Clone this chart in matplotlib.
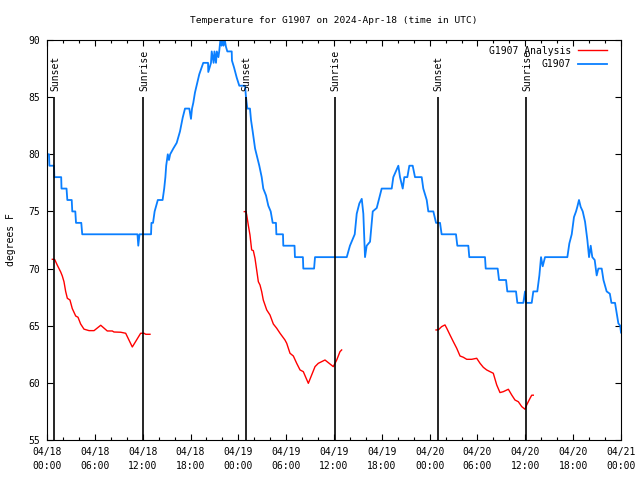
import matplotlib
matplotlib.use("Agg")
import matplotlib.pyplot as plt
from matplotlib.ticker import FixedLocator, MultipleLocator

plt.rcParams['font.family'] = ['DejaVu Sans Mono']

# hours since 2024-04-18 00:00 UTC
obs_hours = [0.0, 0.25, 0.3, 0.88, 0.92, 1.78, 1.82, 2.45, 2.55, 3.1, 3.17, 3.55, 3.64, 4.3, 4.42,
             11.35, 11.45, 11.6, 13.05, 13.1, 13.3, 13.5, 13.9, 14.5, 14.7, 14.85, 14.95, 15.15,
             15.3, 15.45, 15.84, 16.27, 16.68, 17.02, 17.31, 17.85, 18.06, 18.19, 18.35, 18.56,
             19.1, 19.6, 20.2, 20.23, 20.57, 20.66, 20.9, 21.0, 21.2, 21.3, 21.5, 21.6, 21.75,
             21.9, 22.0, 22.15, 22.3, 22.45, 22.62, 23.17, 23.2, 23.46, 23.8, 24.12, 24.84,
             24.96, 25.13, 25.46, 25.59, 25.8, 26.1, 26.38, 26.63, 26.93, 27.13, 27.47, 27.76,
             28.06, 28.31, 28.72, 28.77, 29.6, 29.64, 31.05, 31.1, 32.1, 32.15, 33.5, 33.62,
             37.6, 38.0, 38.6, 38.85, 39.18, 39.48, 39.68, 39.89, 40.1, 40.52, 40.86, 41.36,
             41.98, 43.24, 43.44, 44.07, 44.28, 44.62, 44.82, 45.2, 45.45, 45.87, 46.16, 47.0,
             47.2, 47.63, 47.83, 48.46, 48.8, 49.3, 49.5, 51.3, 51.47, 52.85, 52.97, 54.94,
             55.03, 56.53, 56.7, 57.58, 57.74, 58.83, 59.0, 59.75, 59.96, 60.08, 60.8, 61.0,
             61.5, 61.76, 61.97, 62.18, 62.47, 65.27, 65.52, 65.82, 66.1, 66.36, 66.52, 66.73,
             66.94, 67.2, 67.49, 67.78, 67.99, 68.2, 68.4, 68.7, 68.95, 69.16, 69.58, 69.8,
             70.2, 70.6, 70.8, 71.25, 71.46, 71.67, 71.9, 72.0]
obs_temps = [80, 80, 79, 79, 78, 78, 77, 77, 76, 76, 75, 75, 74, 74, 73,
             73, 72, 73, 73, 74, 74, 75, 76, 76, 77, 78, 79, 80,
             79.5, 80, 80.5, 81, 82, 83.2, 84, 84, 83.1, 84, 84.5, 85.4,
             87, 88, 88, 87.2, 88, 89, 88, 89, 88, 89, 88.5, 89, 90,
             89.5, 90, 89.5, 90, 89.4, 89, 89, 88.2, 87.6, 86.7, 86, 86,
             85, 84, 84, 83, 82, 80.5, 79.7, 79, 78, 77, 76.4, 75.5,
             75, 74, 74, 73, 73, 72, 72, 71, 71, 70, 70, 71,
             71, 72, 73, 74.8, 75.7, 76.1, 74.8, 71, 72, 72.35, 75, 75.3,
             77, 77, 78, 79, 78, 77, 78, 78, 79, 79, 78, 78,
             77, 76, 75, 75, 74, 74, 73, 73, 72, 72, 71, 71,
             70, 70, 69, 69, 68, 68, 67, 67, 68, 67, 67, 68,
             68, 69.4, 71, 70.2, 71, 71, 72.2, 73, 74.5, 75, 75.4, 76,
             75.4, 75, 74.1, 72.5, 71, 72, 71, 70.75, 69.4, 70, 70, 69,
             68, 67.8, 67, 67, 66.1, 65.2, 65, 64.4]

ana1_hours = [0.67, 0.96, 1.29, 1.72, 1.92, 2.13, 2.34, 2.55, 2.88, 3.17, 3.6, 3.89, 4.22, 4.64,
              5.27, 5.9, 6.74, 7.56, 8.19, 8.4, 9.24, 9.87, 10.7, 11.75, 12.17, 12.38, 12.92]
ana1_temps = [70.81, 70.8, 70.3, 69.7, 69.35, 68.85, 68.0, 67.4, 67.25, 66.5, 65.85, 65.74, 65.15,
              64.7, 64.57, 64.57, 65.04, 64.54, 64.54, 64.45, 64.43, 64.34, 63.14, 64.34, 64.34,
              64.25, 64.25]
ana2_hours = [24.75, 24.96, 25.05, 25.25, 25.46, 25.67, 25.88, 26.09, 26.3, 26.51, 26.72, 26.93,
              27.13, 27.56, 27.97, 28.39, 28.81, 29.23, 29.85, 30.07, 30.48, 30.9, 31.32, 31.74,
              32.15, 32.78, 33.2, 33.62, 34.03, 34.87, 35.5, 35.91, 36.34, 36.75, 36.96]
ana2_temps = [74.98, 75.0, 74.7, 73.8, 72.94, 71.63, 71.57, 70.9, 69.88, 68.85, 68.56, 67.98,
              67.25, 66.38, 65.94, 65.15, 64.78, 64.34, 63.75, 63.46, 62.59, 62.35, 61.71, 61.13,
              60.98, 59.96, 60.69, 61.42, 61.71, 62.0, 61.65, 61.42, 62.0, 62.73, 62.88]
ana3_hours = [48.8, 49.08, 49.5, 49.92, 50.14, 50.55, 50.97, 51.39, 51.81, 52.22, 52.65, 53.27,
              53.9, 54.32, 54.73, 55.15, 55.57, 55.98, 56.41, 56.82, 57.24, 57.87, 58.29, 58.7,
              59.12, 59.55, 59.96, 60.17, 60.59, 60.8, 61.0]
ana3_temps = [64.63, 64.63, 64.92, 65.07, 64.78, 64.19, 63.6, 63.03, 62.35, 62.24, 62.06, 62.06,
              62.15, 61.71, 61.36, 61.13, 60.98, 60.84, 59.82, 59.15, 59.23, 59.44, 58.94, 58.5,
              58.35, 57.92, 57.69, 58.07, 58.65, 58.92, 58.92]

sun_hours = [0.92, 12.08, 24.9, 36.08, 49.0, 60.1]
sun_labels = ["Sunset", "Sunrise", "Sunset", "Sunrise", "Sunset", "Sunrise"]

tick_hours = [0, 6, 12, 18, 24, 30, 36, 42, 48, 54, 60, 66, 72]
tick_labels = ["04/18\n00:00", "04/18\n06:00", "04/18\n12:00", "04/18\n18:00",
               "04/19\n00:00", "04/19\n06:00", "04/19\n12:00", "04/19\n18:00",
               "04/20\n00:00", "04/20\n06:00", "04/20\n12:00", "04/20\n18:00",
               "04/21\n00:00"]

fig = plt.figure(figsize=(6.4, 4.8), dpi=100)
ax = fig.add_axes([47 / 640, 40 / 480, 574 / 640, 400 / 480])

red = '#ff0000'
blue = '#0a7fff'
ax.plot(ana1_hours, ana1_temps, color=red, lw=1.0, label='G1907 Analysis')
ax.plot(ana2_hours, ana2_temps, color=red, lw=1.0)
ax.plot(ana3_hours, ana3_temps, color=red, lw=1.0)
ax.plot(obs_hours, obs_temps, color=blue, lw=1.3, label='G1907')

ax.vlines(sun_hours, 55, 85, color='black', lw=1.2)
for h, lab in zip(sun_hours, sun_labels):
    ax.text(h + 0.15, 85.5, lab, rotation=90, ha='center', va='bottom', fontsize=7)

ax.set_xlim(0, 72)
ax.set_ylim(55, 90)
ax.xaxis.set_major_locator(FixedLocator(tick_hours))
ax.set_xticklabels(tick_labels)
for lbl in ax.get_xticklabels():
    lbl.set_linespacing(1.55)
ax.xaxis.set_minor_locator(MultipleLocator(2))
ax.yaxis.set_major_locator(MultipleLocator(5))
ax.tick_params(which='both', direction='in', top=True, right=True, labelsize=7, width=0.8)
ax.tick_params(which='major', length=4.5)
ax.tick_params(which='minor', length=2.5)
ax.tick_params(axis='x', pad=5)
ax.tick_params(axis='y', pad=5)
for s in ax.spines.values():
    s.set_linewidth(0.8)

ax.set_ylabel('degrees F', fontsize=7, labelpad=9)
ax.set_title('Temperature for G1907 on 2024-Apr-18 (time in UTC)', fontsize=6.8, pad=12)

ax.legend(loc='upper right', bbox_to_anchor=(0.988, 1.003), frameon=False, fontsize=7,
          markerfirst=False, handlelength=3.0, handletextpad=0.7, labelspacing=0.35,
          borderaxespad=0.3)

fig.savefig('out.png', dpi=100)
